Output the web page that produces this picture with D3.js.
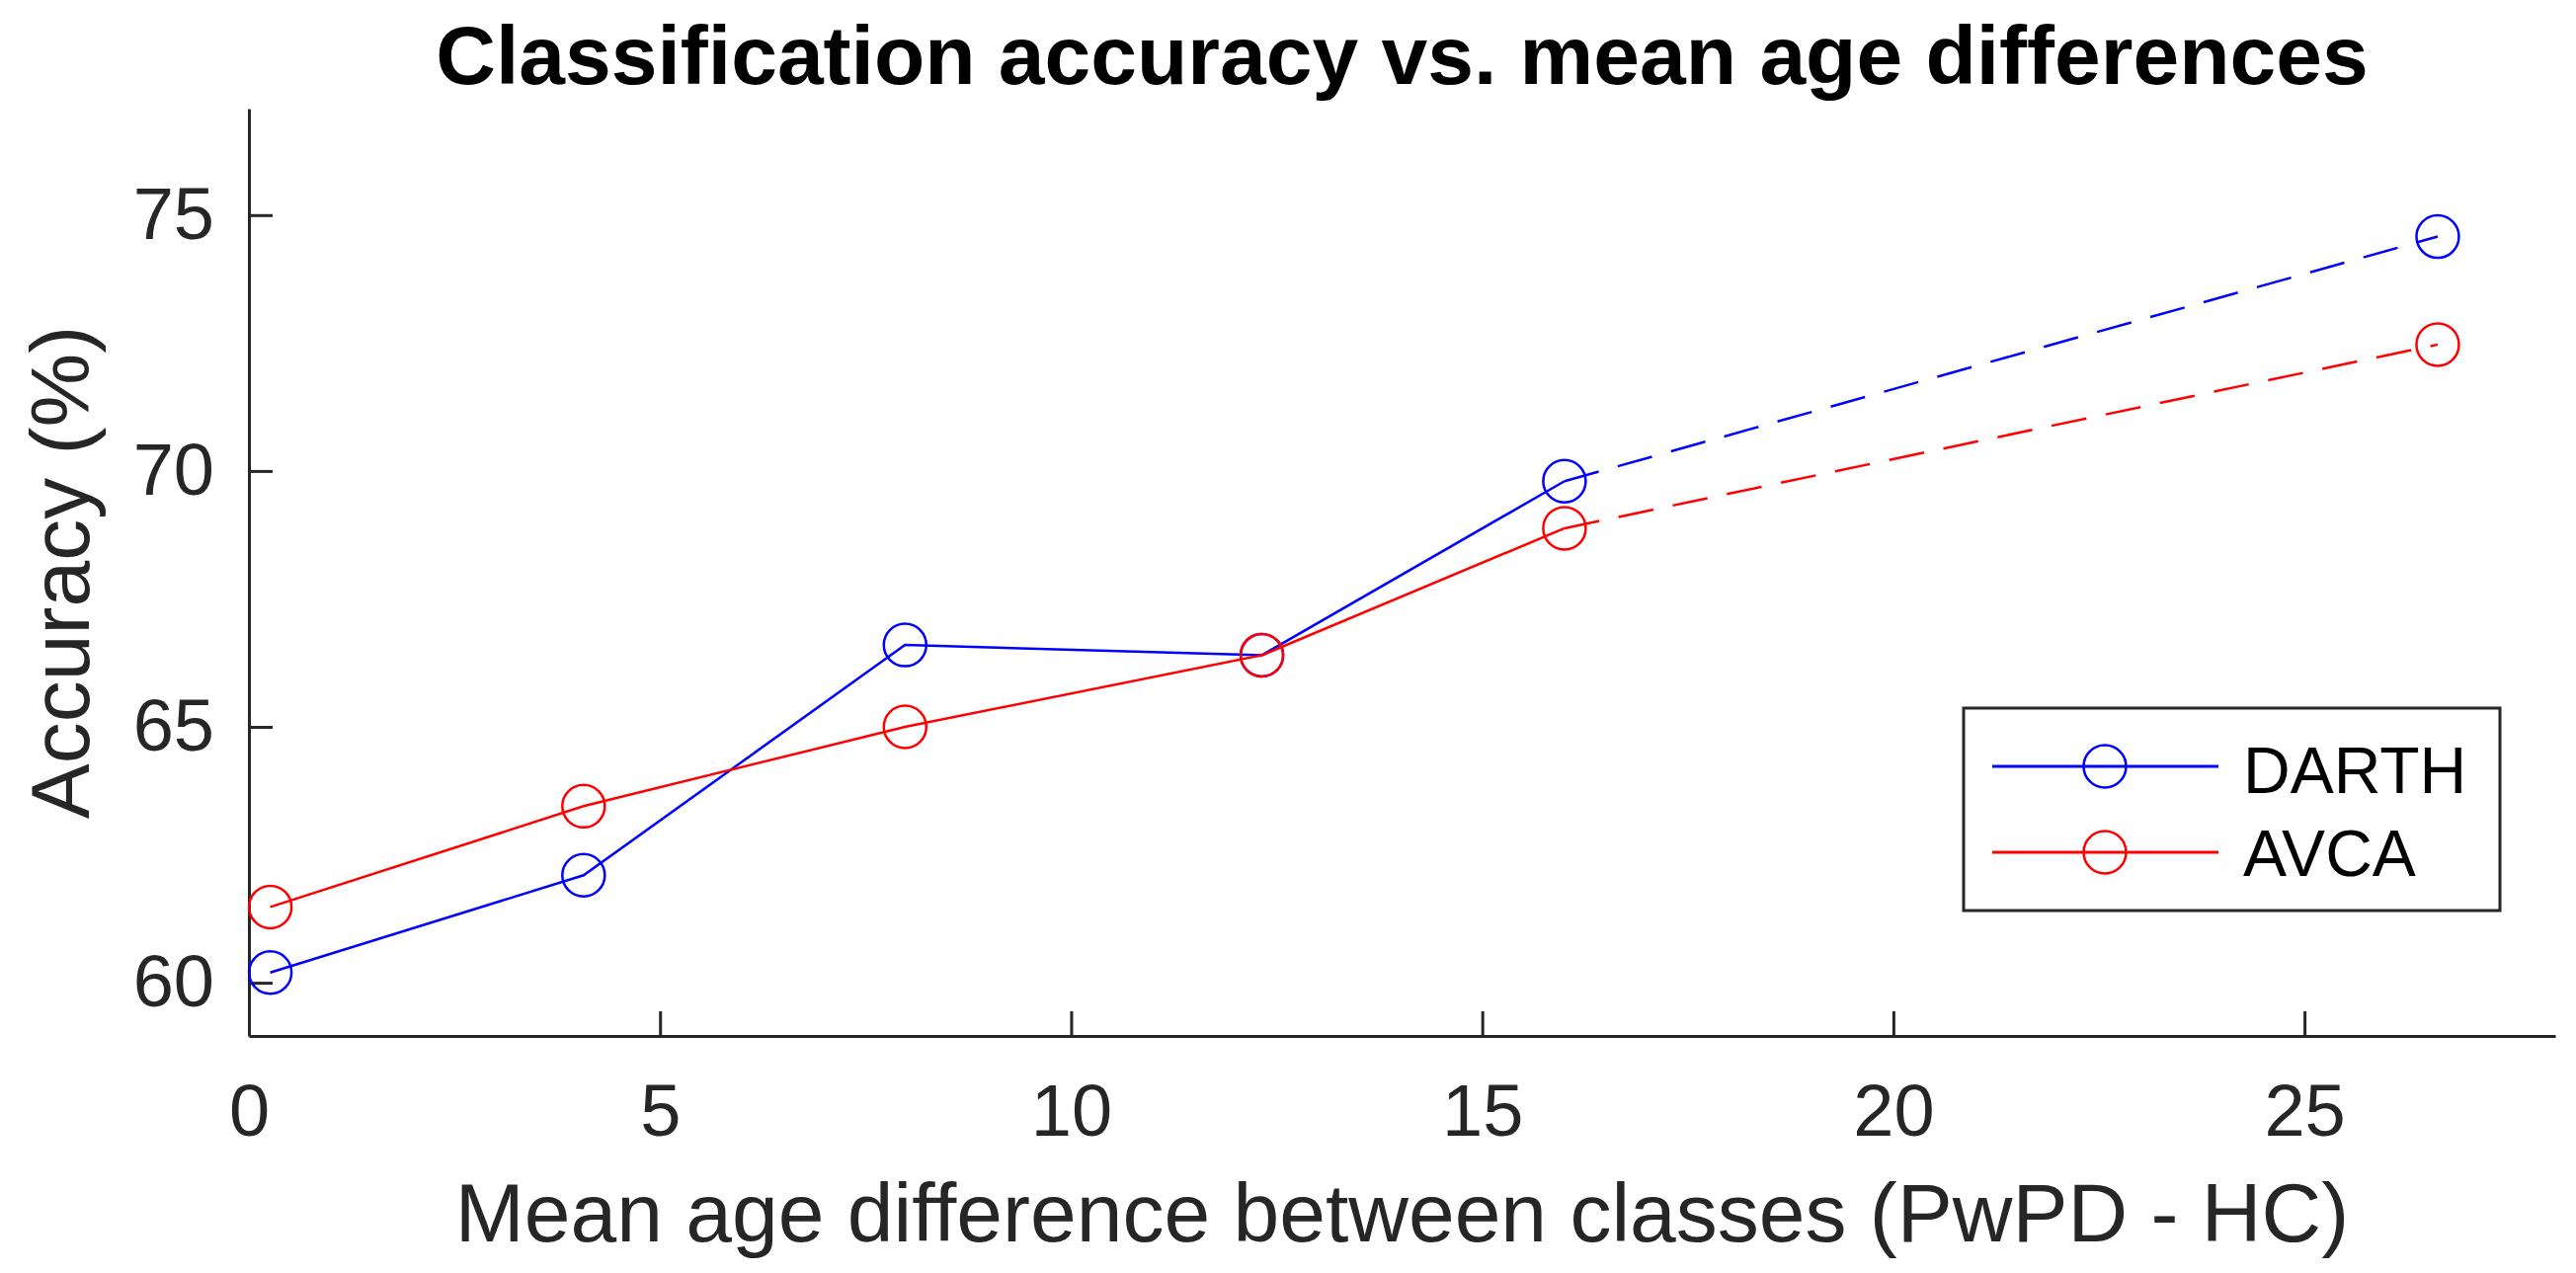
<!DOCTYPE html>
<html>
<head>
<meta charset="utf-8">
<script src="https://cdn.jsdelivr.net/npm/d3@7"></script>
<style>
  html, body { margin: 0; padding: 0; background: #fff; }
  svg { display: block; }
  text { font-family: "Liberation Sans", Arial, Helvetica, sans-serif; }
</style>
</head>
<body>
<svg id="chart" width="2608" height="1289"></svg>
<script>
// ---- data ----
const ageDiff = [0.26, 4.07, 7.98, 12.32, 16.0, 26.62];
const darth   = [60.2, 62.1, 66.6, 66.4, 69.8, 74.58];
const avca    = [61.48, 63.45, 65.0, 66.4, 68.88, 72.47];
const seriesNames = ["DARTH", "AVCA"];
const xTicks = [0, 5, 10, 15, 20, 25];
const yTicks = [60, 65, 70, 75];
const xDomain = [0, 28.05];
const yDomain = [58.96, 77.08];
const titleText = "Classification accuracy vs. mean age differences";
const xLabelText = "Mean age difference between classes (PwPD - HC)";
const yLabelText = "Accuracy (%)";

// ---- layout ----
const W = 2608, H = 1289;
const plot = { left: 252, right: 2587, top: 110, bottom: 1049 };
const axisColor = "#262626";
const colors = { DARTH: "#0000ff", AVCA: "#ff0000" };

const svg = d3.select("#chart");
svg.append("rect").attr("width", W).attr("height", H).attr("fill", "#fff");

const x = d3.scaleLinear().domain(xDomain).range([plot.left, plot.right]);
const y = d3.scaleLinear().domain(yDomain).range([plot.bottom, plot.top]);

// axes
const xAxis = d3.axisBottom(x).tickValues(xTicks).tickFormat(d3.format("d"))
  .tickSizeInner(-25).tickSizeOuter(0).tickPadding(48);
const yAxis = d3.axisLeft(y).tickValues(yTicks).tickFormat(d3.format("d"))
  .tickSizeInner(-24).tickSizeOuter(0).tickPadding(35);

const gx = svg.append("g").attr("transform", `translate(0,${plot.bottom})`).call(xAxis);
const gy = svg.append("g").attr("transform", `translate(${plot.left},0)`).call(yAxis);

[gx, gy].forEach(g => {
  g.select(".domain").attr("stroke", axisColor).attr("stroke-width", 3);
  g.selectAll(".tick line").attr("stroke", axisColor).attr("stroke-width", 3);
  g.selectAll(".tick text").attr("fill", axisColor)
    .style("font-size", "74px")
    .style("font-family", '"Liberation Sans", Arial, sans-serif');
});

// series
const series = [
  { name: seriesNames[0], values: darth },
  { name: seriesNames[1], values: avca }
];

const lastSolid = 4; // index of last point on the solid segment

const line = d3.line().x(d => x(d[0])).y(d => y(d[1]));

series.forEach(s => {
  const pts = ageDiff.map((a, i) => [a, s.values[i]]);
  const solid = pts.slice(0, lastSolid + 1);
  const dashed = pts.slice(lastSolid);
  svg.append("path").datum(solid).attr("d", line)
    .attr("fill", "none").attr("stroke", colors[s.name]).attr("stroke-width", 2.5);
  svg.append("path").datum(dashed).attr("d", line)
    .attr("fill", "none").attr("stroke", colors[s.name]).attr("stroke-width", 2.5)
    .attr("stroke-dasharray", "36 20");
  svg.append("g").selectAll("circle").data(pts).join("circle")
    .attr("cx", d => x(d[0])).attr("cy", d => y(d[1])).attr("r", 21.5)
    .attr("fill", "none").attr("stroke", colors[s.name]).attr("stroke-width", 2.5);
});

// title
svg.append("text")
  .attr("x", (plot.left + plot.right) / 2).attr("y", 85)
  .attr("text-anchor", "middle")
  .style("font-size", "84px").style("font-weight", "bold").attr("fill", "#000")
  .text(titleText);

// x label
svg.append("text")
  .attr("x", (plot.left + plot.right) / 2).attr("y", 1257)
  .attr("text-anchor", "middle")
  .style("font-size", "84px").attr("fill", axisColor)
  .text(xLabelText);

// y label
svg.append("text")
  .attr("transform", `translate(90,${(plot.top + plot.bottom) / 2}) rotate(-90)`)
  .attr("text-anchor", "middle")
  .style("font-size", "84px").attr("fill", axisColor)
  .text(yLabelText);

// legend
const leg = { x: 1988, y: 717, w: 543, h: 205 };
const lg = svg.append("g");
lg.append("rect").attr("x", leg.x).attr("y", leg.y).attr("width", leg.w).attr("height", leg.h)
  .attr("fill", "#fff").attr("stroke", axisColor).attr("stroke-width", 3);
const rowY = [776, 863];
const textY = [803, 887];
series.forEach((s, i) => {
  lg.append("line").attr("x1", 2017).attr("x2", 2246).attr("y1", rowY[i]).attr("y2", rowY[i])
    .attr("stroke", colors[s.name]).attr("stroke-width", 3);
  lg.append("circle").attr("cx", 2131).attr("cy", rowY[i]).attr("r", 21.5)
    .attr("fill", "none").attr("stroke", colors[s.name]).attr("stroke-width", 2.5);
  lg.append("text").attr("x", 2271).attr("y", textY[i])
    .style("font-size", "66px").attr("fill", "#000").text(s.name);
});
</script>
</body>
</html>
